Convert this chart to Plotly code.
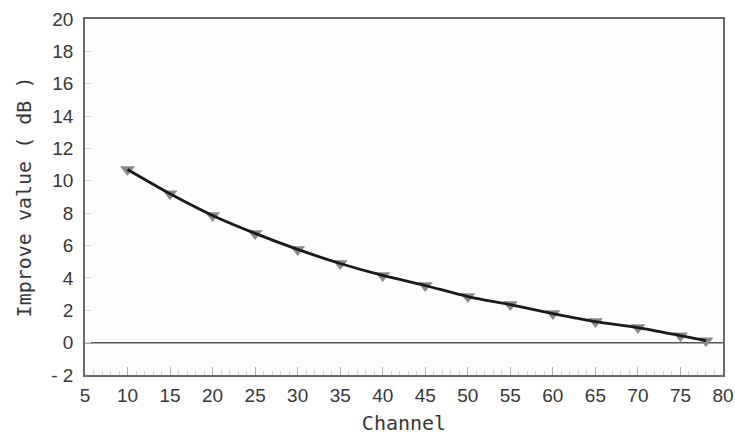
import plotly.graph_objects as go

# Improvement per channel
channels = [10, 15, 20, 25, 30, 35, 40, 45, 50, 55, 60, 65, 70, 75, 78]
improve_db = [10.7, 9.2, 7.86, 6.75, 5.76, 4.89, 4.15, 3.53, 2.85, 2.35, 1.80, 1.30, 0.93, 0.43, 0.12]

x_ticks = [5, 10, 15, 20, 25, 30, 35, 40, 45, 50, 55, 60, 65, 70, 75, 80]
y_ticks = [-2, 0, 2, 4, 6, 8, 10, 12, 14, 16, 18, 20]
y_tick_text = ["- 2"] + [str(v) for v in y_ticks[1:]]

fig = go.Figure()

# zero reference line
fig.add_trace(go.Scatter(
    x=[5, 80], y=[0, 0], mode="lines",
    line=dict(color="#555555", width=1.5), hoverinfo="skip", showlegend=False,
))

# markers underneath, smooth curve on top
fig.add_trace(go.Scatter(
    x=channels, y=improve_db, mode="markers",
    marker=dict(symbol="triangle-down", size=13, color="#8a8a8a",
                line=dict(width=0)),
    showlegend=False,
))
fig.add_trace(go.Scatter(
    x=channels, y=improve_db, mode="lines",
    line=dict(color="#1a1a1a", width=2.8, shape="spline", smoothing=0.8),
    showlegend=False,
))

tick_font = dict(family="Liberation Sans, Arial, sans-serif", size=19, color="#383838")
title_font = dict(family="DejaVu Sans Mono, monospace", size=20, color="#383838")

fig.update_layout(
    width=735, height=435,
    margin=dict(l=85, r=12, t=19, b=60),
    paper_bgcolor="white",
    plot_bgcolor="#fdfdfd",
    xaxis=dict(
        range=[5, 80], tickvals=x_ticks, ticktext=[str(v) for v in x_ticks],
        showgrid=False, zeroline=False, automargin=False,
        showline=True, mirror=True, linecolor="#6a6a6a", linewidth=1.5,
        ticks="inside", ticklen=8, tickcolor="#b0b0b0", tickwidth=1,
        minor=dict(dtick=1, ticks="inside", ticklen=4, tickcolor="#d0d0d0", tickwidth=1),
        tickfont=tick_font, ticklabelstandoff=2,
        title=dict(text="Channel", font=title_font, standoff=12),
    ),
    yaxis=dict(
        range=[-2, 20], tickvals=y_ticks, ticktext=y_tick_text,
        showgrid=False, zeroline=False, automargin=False,
        showline=True, mirror=True, linecolor="#6a6a6a", linewidth=1.5,
        ticks="inside", ticklen=6, tickcolor="#d8d8d8", tickwidth=1,
        tickfont=tick_font, ticklabelstandoff=6,
        title=dict(text="Improve value ( dB )", font=title_font, standoff=14),
    ),
)

fig.write_html("out.html")
